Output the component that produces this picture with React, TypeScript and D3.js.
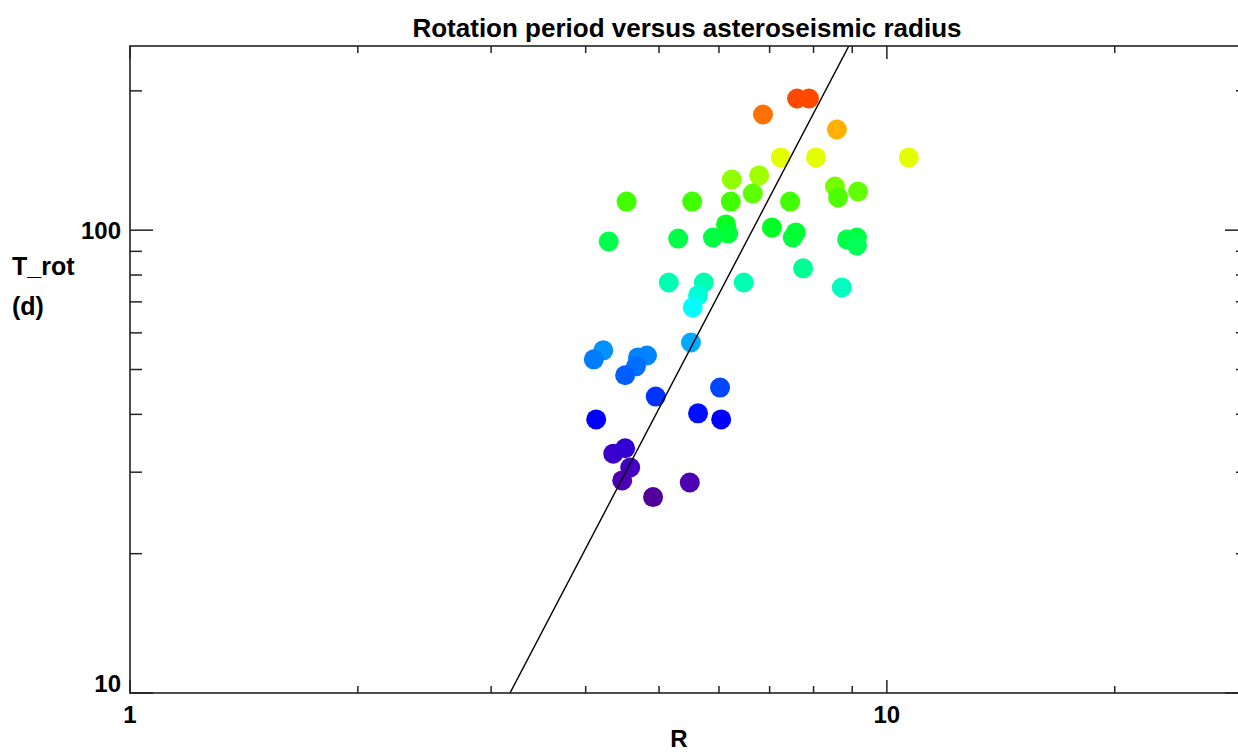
import React from "react";
import * as d3 from "d3";

// asteroseismic radius R (solar units) and rotation period T_rot (days)
const radius = [
  7.61, 7.89, 6.86, 8.59, 7.24, 8.06, 10.69, 6.78, 6.24, 8.54,
  8.62, 9.16, 6.65, 4.53, 5.53, 6.22, 7.45, 7.05, 6.13, 6.17,
  5.89, 5.30, 4.29, 7.51, 7.58, 8.86, 9.13, 9.13, 7.75, 5.15,
  5.73, 6.47, 8.72, 5.63, 5.54, 5.51, 4.22, 4.10, 4.82, 4.69,
  4.66, 4.51, 4.95, 6.02, 4.13, 5.63, 6.04, 4.35, 4.51, 4.58,
  4.47, 5.49, 4.91,
];
const period = [
  192.5, 192.5, 177.8, 165.0, 143.6, 143.6, 143.6, 131.3, 128.7, 124.3,
  117.7, 121.2, 120.0, 115.3, 115.3, 115.3, 115.3, 101.3, 102.9, 98.4,
  96.4, 95.9, 94.5, 96.4, 98.9, 95.5, 96.4, 92.7, 82.7, 77.1,
  77.1, 77.1, 75.2, 72.3, 68.1, 57.2, 55.0, 52.6, 53.6, 53.1,
  50.8, 48.6, 43.7, 45.7, 39.0, 40.2, 39.0, 32.9, 33.8, 30.7,
  28.8, 28.5, 26.5,
];

const xMajor = [1, 10];
const xMinor = [2, 3, 4, 5, 6, 7, 8, 9, 20, 30];
const yMajor = [10, 100];
const yMinor = [20, 30, 40, 50, 60, 70, 80, 90, 200];
const xTickLabels = ["1", "10"];
const yTickLabels = ["10", "100"];

// power-law line drawn across the plot: log T = a + b log R
const fitA = -0.568;
const fitB = 3.123;

// colour table over T_rot
const colorT = [26.5, 29, 33, 39, 45, 50, 54, 57, 68, 75, 83, 97, 102, 115, 121, 130, 144, 165, 178, 192];
const colorC = [
  "#52009a", "#4a00b8", "#3c00cc", "#0000ff", "#0040ff", "#0068ff", "#0088ff", "#00a8ff",
  "#00ffff", "#00ffc0", "#00ff90", "#00ff40", "#00ff20", "#40ff00", "#60ff00", "#98ff00",
  "#e6ff00", "#ffb000", "#ff7000", "#ff4800",
];

const W = 1238;
const H = 753;
const left = 130, right = 1248, top = 46, bottom = 693;
const font = "'Liberation Sans', Arial, sans-serif";

export default function App() {
  const x = d3.scaleLog().domain([1, 30]).range([left, right]);
  const y = d3.scaleLog().domain([10, 250]).range([bottom, top]);
  const color = d3.scaleLog<string>().domain(colorT).range(colorC).clamp(true);

  const data = radius.map((r, i) => ({ r, t: period[i] }));
  const fitPts: [number, number][] = [1, 30].map((r) => [r, Math.pow(10, fitA + fitB * Math.log10(r))]);
  const line = d3.line<[number, number]>().x((d) => x(d[0])).y((d) => y(d[1]));

  const axisStroke = "#222";
  return (
    <svg width={W} height={H} style={{ position: "absolute", left: 0, top: 0, background: "#fff" }}>
      <defs>
        <clipPath id="plot">
          <rect x={left} y={top} width={right - left} height={bottom - top} />
        </clipPath>
      </defs>
      <rect x={0} y={0} width={W} height={H} fill="#fff" />

      <g>
        {data.map((d, i) => (
          <circle key={i} cx={x(d.r)} cy={y(d.t)} r={10} fill={color(d.t)} />
        ))}
      </g>
      <path d={line(fitPts) || ""} stroke="#000" strokeWidth={1.4} fill="none" clipPath="url(#plot)" />

      {/* frame */}
      <rect x={left} y={top} width={right - left} height={bottom - top} fill="none" stroke={axisStroke} strokeWidth={1.6} />

      {/* x ticks, bottom and top */}
      {xMajor.map((v) => (
        <g key={"xM" + v}>
          <line x1={x(v)} x2={x(v)} y1={bottom} y2={bottom - 13} stroke={axisStroke} strokeWidth={1.5} />
          <line x1={x(v)} x2={x(v)} y1={top} y2={top + 13} stroke={axisStroke} strokeWidth={1.5} />
        </g>
      ))}
      {xMinor.map((v) => (
        <g key={"xm" + v}>
          <line x1={x(v)} x2={x(v)} y1={bottom} y2={bottom - 7} stroke={axisStroke} strokeWidth={1.5} />
          <line x1={x(v)} x2={x(v)} y1={top} y2={top + 7} stroke={axisStroke} strokeWidth={1.5} />
        </g>
      ))}
      {/* y ticks, left and right */}
      {yMajor.map((v) => (
        <g key={"yM" + v}>
          <line x1={left} x2={left + 23} y1={y(v)} y2={y(v)} stroke={axisStroke} strokeWidth={1.5} />
          <line x1={right} x2={right - 23} y1={y(v)} y2={y(v)} stroke={axisStroke} strokeWidth={1.5} />
        </g>
      ))}
      {yMinor.map((v) => (
        <g key={"ym" + v}>
          <line x1={left} x2={left + 12} y1={y(v)} y2={y(v)} stroke={axisStroke} strokeWidth={1.5} />
          <line x1={right} x2={right - 12} y1={y(v)} y2={y(v)} stroke={axisStroke} strokeWidth={1.5} />
        </g>
      ))}

      <g fontFamily={font} fontSize={24} fontWeight="bold" fill="#000">
        {xMajor.map((v, i) => (
          <text key={"xl" + v} x={x(v)} y={723} textAnchor="middle">{xTickLabels[i]}</text>
        ))}
        {yMajor.map((v, i) => (
          <text key={"yl" + v} x={121} y={Math.min(y(v) + 9, 692)} textAnchor="end">{yTickLabels[i]}</text>
        ))}
      </g>

      <g fontFamily={font} fontWeight="bold" fill="#000">
        <text x={687} y={37} fontSize={26} textAnchor="middle">Rotation period versus asteroseismic radius</text>
        <text x={12} y={275} fontSize={25}>T_rot</text>
        <text x={12} y={315} fontSize={25}>(d)</text>
        <text x={679} y={747} fontSize={24} textAnchor="middle">R</text>
      </g>
    </svg>
  );
}
